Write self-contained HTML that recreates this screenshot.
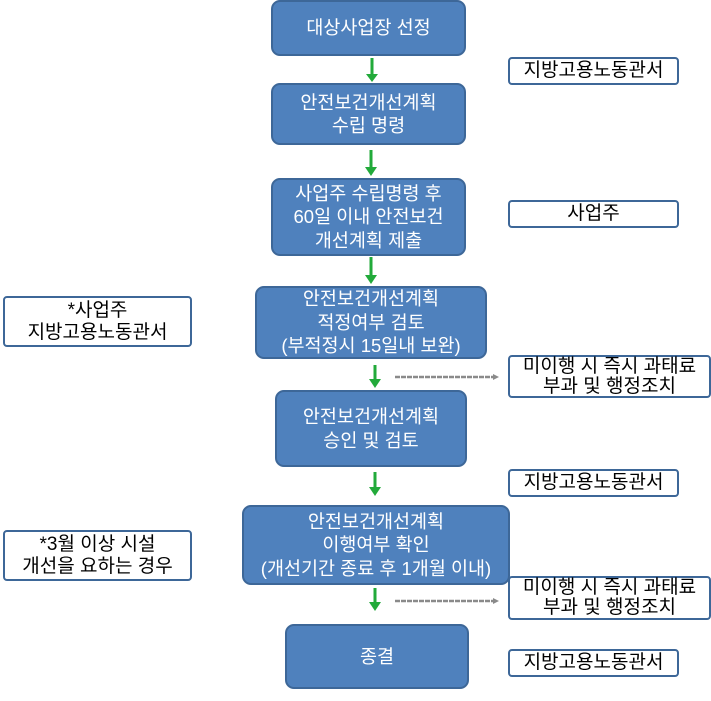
<!DOCTYPE html>
<html><head><meta charset="utf-8"><style>
body{margin:0;width:711px;height:701px;background:#fff;position:relative;overflow:hidden;font-family:"Liberation Sans","Noto Sans CJK KR","NanumGothic",sans-serif}
.b{position:absolute;background:#4f81bd;border:2px solid #3d6798;border-radius:9px;color:#fff;font-size:18.5px;line-height:23.5px;display:flex;align-items:center;justify-content:center;text-align:center;box-sizing:border-box;white-space:nowrap}
.w{position:absolute;background:#fff;border:2px solid #3d6798;border-radius:4px;color:#000;font-size:19px;line-height:20px;display:flex;align-items:center;justify-content:center;text-align:center;box-sizing:border-box;white-space:nowrap}
svg{position:absolute;left:0;top:0}
</style></head><body>
<div class="b" style="left:271px;top:0;width:195px;height:56px">대상사업장 선정</div>
<div class="b" style="left:271px;top:83px;width:195px;height:62px">안전보건개선계획<br>수립 명령</div>
<div class="b" style="left:271px;top:178px;width:195px;height:78px">사업주 수립명령 후<br>60일 이내 안전보건<br>개선계획 제출</div>
<div class="b" style="left:255px;top:286px;width:232px;height:73px">안전보건개선계획<br>적정여부 검토<br>(부적정시 15일내 보완)</div>
<div class="b" style="left:275px;top:390px;width:192px;height:77px">안전보건개선계획<br>승인 및 검토</div>
<div class="b" style="left:242px;top:505px;width:268px;height:80px">안전보건개선계획<br>이행여부 확인<br>(개선기간 종료 후 1개월 이내)</div>
<div class="b" style="left:285px;top:624px;width:184px;height:65px">종결</div>

<div class="w" style="left:508px;top:57px;width:171px;height:28px">지방고용노동관서</div>
<div class="w" style="left:508px;top:200px;width:171px;height:28px">사업주</div>
<div class="w" style="left:508px;top:355px;width:203px;height:43px">미이행 시 즉시 과태료<br>부과 및 행정조치</div>
<div class="w" style="left:508px;top:469px;width:171px;height:28px">지방고용노동관서</div>
<div class="w" style="left:508px;top:576px;width:203px;height:44px">미이행 시 즉시 과태료<br>부과 및 행정조치</div>
<div class="w" style="left:508px;top:649px;width:171px;height:28px">지방고용노동관서</div>
<div class="w" style="left:3px;top:296px;width:189px;height:51px;line-height:22px">*사업주<br>지방고용노동관서</div>
<div class="w" style="left:3px;top:530px;width:189px;height:51px;line-height:22px">*3월 이상 시설<br>개선을 요하는 경우</div>

<svg width="711" height="701">
<g stroke="#22aa3a" stroke-width="3" fill="#22aa3a">
<line x1="372" y1="58" x2="372" y2="75"/><polygon points="366,74 378,74 372,82" stroke="none"/>
<line x1="371" y1="150" x2="371" y2="168"/><polygon points="365,167 377,167 371,176" stroke="none"/>
<line x1="371" y1="257" x2="371" y2="276"/><polygon points="365,275 377,275 371,284" stroke="none"/>
<line x1="375" y1="365" x2="375" y2="380"/><polygon points="369,379 381,379 375,388" stroke="none"/>
<line x1="375" y1="472" x2="375" y2="488"/><polygon points="369,487 381,487 375,496" stroke="none"/>
<line x1="375" y1="588" x2="375" y2="603"/><polygon points="369,602 381,602 375,611" stroke="none"/>
</g>
<g stroke="#8a8a8a" stroke-width="2.5" stroke-dasharray="5,1" fill="#8a8a8a">
<line x1="395" y1="377" x2="494" y2="377"/><polygon points="493,374 499,377 493,380" stroke="none"/>
<line x1="395" y1="601" x2="494" y2="601"/><polygon points="493,598 499,601 493,604" stroke="none"/>
</g>
</svg>
</body></html>
